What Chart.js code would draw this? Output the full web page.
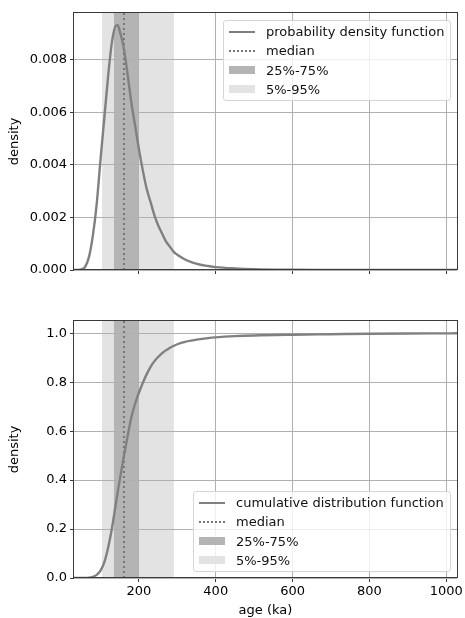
<!DOCTYPE html>
<html>
<head>
<meta charset="utf-8">
<script src="https://cdn.jsdelivr.net/npm/chart.js@4"></script>
<style>
  body { margin: 0; background: #fff; font-family: "DejaVu Sans", sans-serif; }
  #wrap { position: relative; width: 465px; height: 618px; }
  canvas { position: absolute; left: 0; }
  .legend {
    position: absolute; background: rgba(255,255,255,0.8);
    border: 1px solid #d6d6d6; border-radius: 3px; box-sizing: border-box;
    font-size: 13px; color: #111;
  }
  .row { position: absolute; left: 0; height: 19px; line-height: 19px; white-space: nowrap; }
  .handle { position: absolute; left: 5px; width: 26px; }
  .label { position: absolute; left: 42px; top: 0; }
</style>
</head>
<body>
<div id="wrap">
  <canvas id="pdfChart" width="465" height="300" style="top:0"></canvas>
  <canvas id="cdfChart" width="465" height="318" style="top:300px"></canvas>
  <div id="pdfLegend" class="legend" style="left:223px; top:20px; width:228px; height:81px"></div>
  <div id="cdfLegend" class="legend" style="left:193px; top:491px; width:258px; height:81px"></div>
</div>
<script>
// age grid (ka) and values
const ages = [31, 40, 50, 60, 70, 80, 90, 100, 110, 120, 130, 140, 145, 150, 160, 170, 180, 190, 200,
  210, 220, 230, 240, 250, 260, 270, 280, 290, 300, 320, 340, 360, 380, 400, 450, 500, 600, 700, 800, 900, 1000, 1028];
const pdfValues = [0, 0, 0.00002, 0.00012, 0.0005, 0.0013, 0.0025, 0.0042, 0.0058, 0.0074, 0.0087, 0.0093, 0.00932, 0.0091, 0.0085, 0.0075, 0.0064, 0.0055, 0.0046,
  0.0038, 0.0031, 0.0026, 0.0021, 0.0017, 0.0014, 0.0011, 0.0009, 0.0007, 0.00058, 0.0004, 0.00028, 0.0002, 0.00015, 0.00011, 0.00006, 0.00003, 0.00001, 0.000005, 0.000002, 0.000001, 0, 0];
const cdfValues = [0, 0, 0, 0.0003, 0.0015, 0.005, 0.013, 0.03, 0.065, 0.125, 0.205, 0.305, 0.353, 0.40, 0.49, 0.575, 0.655, 0.712, 0.757,
  0.797, 0.832, 0.862, 0.885, 0.903, 0.918, 0.93, 0.94, 0.948, 0.955, 0.965, 0.971, 0.976, 0.98, 0.983, 0.988, 0.991, 0.994, 0.996, 0.998, 0.999, 0.9995, 0.9997];

const medianAge = 161;
const band25_75 = [135, 200];
const band5_95 = [104, 291];

const xRange = [31, 1028];
const xTicks = [200, 400, 600, 800, 1000];
const pdfRange = [0, 0.00978];
const pdfTicks = [0, 0.002, 0.004, 0.006, 0.008];
const cdfRange = [0, 1.05];
const cdfTicks = [0, 0.2, 0.4, 0.6, 0.8, 1.0];

const GRAY = '#808080';
const DARK_BAND = '#b4b4b4';
const LIGHT_BAND = '#e3e3e3';
const GRID = '#b0b0b0';
const SPINE = '#3a3a3a';
const FONT = { family: 'DejaVu Sans', size: 13 };

// shaded bands behind the grid, frame on top
const bandsPlugin = {
  id: 'bands',
  beforeDraw(chart) {
    const { ctx, chartArea: a, scales: { x } } = chart;
    ctx.save();
    ctx.fillStyle = LIGHT_BAND;
    let l = x.getPixelForValue(band5_95[0]), r = x.getPixelForValue(band5_95[1]);
    ctx.fillRect(l, a.top, r - l, a.bottom - a.top);
    ctx.fillStyle = DARK_BAND;
    l = x.getPixelForValue(band25_75[0]); r = x.getPixelForValue(band25_75[1]);
    ctx.fillRect(l, a.top, r - l, a.bottom - a.top);
    ctx.restore();
  },
  afterDraw(chart) {
    const { ctx, chartArea: a } = chart;
    ctx.save();
    ctx.strokeStyle = SPINE;
    ctx.lineWidth = 1;
    ctx.strokeRect(Math.round(a.left) - 0.5, Math.round(a.top) - 0.5, Math.round(a.right - a.left) + 1, Math.round(a.bottom - a.top));
    ctx.restore();
  }
};

function makeChart(id, values, yRange, yTicks, decimals, opts) {
  const line = ages.map((a, i) => ({ x: a, y: values[i] }));
  const med = [{ x: medianAge, y: yRange[0] }, { x: medianAge, y: yRange[1] }];
  return new Chart(document.getElementById(id), {
    type: 'line',
    data: {
      datasets: [
        { data: line, borderColor: GRAY, borderWidth: 2.4, pointRadius: 0, cubicInterpolationMode: 'monotone', fill: false },
        { data: med, borderColor: '#767676', borderWidth: 2, borderDash: [2, 3], pointRadius: 0, fill: false }
      ]
    },
    options: {
      responsive: false,
      animation: false,
      events: [],
      layout: { padding: opts.padding },
      plugins: { legend: { display: false }, tooltip: { enabled: false } },
      scales: {
        x: {
          type: 'linear', min: xRange[0], max: xRange[1],
          afterBuildTicks: s => { s.ticks = xTicks.map(v => ({ value: v })); },
          afterFit: s => { s.height = opts.xHeight; },
          border: { display: false },
          grid: { color: GRID, lineWidth: 1, tickLength: 4, tickColor: SPINE },
          ticks: { display: opts.showX, color: '#000', font: FONT, padding: 2, maxRotation: 0, callback: v => String(v) },
          title: { display: opts.showX, text: 'age (ka)', color: '#000', font: FONT, padding: { top: 1, bottom: 0 } }
        },
        y: {
          min: yRange[0], max: yRange[1],
          afterBuildTicks: s => { s.ticks = yTicks.map(v => ({ value: v })); },
          afterFit: s => { s.width = 74; },
          border: { display: false },
          grid: { color: GRID, lineWidth: 1, tickLength: 4, tickColor: SPINE },
          ticks: { color: '#000', font: FONT, padding: 3, callback: v => v.toFixed(decimals) },
          title: { display: true, text: 'density', color: '#000', font: FONT, padding: { top: 7, bottom: 0 } }
        }
      }
    },
    plugins: [bandsPlugin]
  });
}

makeChart('pdfChart', pdfValues, pdfRange, pdfTicks, 3,
  { padding: { top: 13, right: 8, left: 0, bottom: 0 }, xHeight: 30, showX: false });
makeChart('cdfChart', cdfValues, cdfRange, cdfTicks, 1,
  { padding: { top: 21, right: 8, left: 0, bottom: 0 }, xHeight: 40, showX: true });

// legends
function buildLegend(el, firstLabel) {
  const items = [
    { label: firstLabel, handle: `border-top:2.4px solid ${GRAY}; top:9px;` },
    { label: 'median', handle: `border-top:2px dotted #767676; top:9px;` },
    { label: '25%-75%', handle: `background:${DARK_BAND}; height:8px; top:5px;` },
    { label: '5%-95%', handle: `background:${LIGHT_BAND}; height:8px; top:5px;` }
  ];
  items.forEach((it, i) => {
    const row = document.createElement('div');
    row.className = 'row';
    row.style.top = (1 + i * 19.3) + 'px';
    row.innerHTML = `<div class="handle" style="${it.handle}"></div><span class="label">${it.label}</span>`;
    el.appendChild(row);
  });
}
buildLegend(document.getElementById('pdfLegend'), 'probability density function');
buildLegend(document.getElementById('cdfLegend'), 'cumulative distribution function');
</script>
</body>
</html>
